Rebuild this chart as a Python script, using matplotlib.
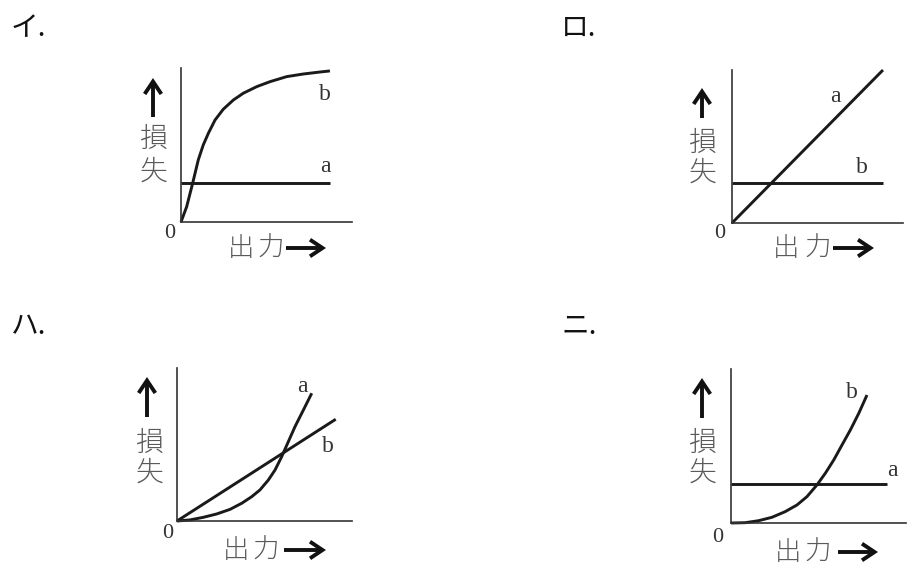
import matplotlib
matplotlib.use("Agg")
import matplotlib.pyplot as plt
from matplotlib.patches import FancyArrowPatch

plt.rcParams['font.family'] = ['Noto Sans CJK JP', 'DejaVu Sans']

W, H = 923, 579

# panel titles
titles = ["イ.", "ロ.", "ハ.", "ニ."]

# イ : a flat, b saturating
i_a_x = [0, 87]
i_a_y = [25.3, 25.3]
i_b_x = [0, 3.3, 6.8, 10.1, 13.0, 16.0, 19.9, 24.7, 30.6, 36.4, 44.3, 52.0, 61.8, 71.5, 81.3, 87.1]
i_b_y = [0, 9.9, 25.1, 40.3, 50.0, 57.6, 66.2, 73.2, 79.2, 83.6, 87.9, 91.1, 94.4, 96.1, 97.4, 98.1]

# ロ : a straight line, b flat
ro_a_x = [0, 88.3]
ro_a_y = [0, 100]
ro_b_x = [0, 88.3]
ro_b_y = [26.1, 26.1]

# ハ : a rising curve, b straight line
ha_a_x = [0, 7.4, 15.0, 22.7, 30.3, 37.0, 42.7, 47.4, 52.2, 56.0, 59.8, 63.6, 67.4, 72.2, 77.0]
ha_a_y = [0, 0.7, 2.4, 4.6, 7.6, 11.6, 15.9, 20.3, 26.8, 33.3, 42.0, 51.8, 61.6, 72.5, 83.5]
ha_b_x = [0, 90.7]
ha_b_y = [0, 66.5]

# ニ : a flat, b rising curve
ni_a_x = [0, 89.1]
ni_a_y = [25.3, 25.3]
ni_b_x = [0, 8.2, 15.8, 23.4, 31.0, 37.7, 43.4, 49.1, 53.9, 58.7, 63.4, 68.2, 73.0, 77.7]
ni_b_y = [0, 0.2, 1.5, 3.7, 7.4, 11.7, 17.1, 24.7, 32.3, 40.9, 50.6, 60.4, 71.2, 83.1]


def fx(x):
    return x / W


def fy(y):
    return 1 - y / H


def arrow(x0, y0, x1, y1):
    fig.add_artist(FancyArrowPatch(
        (fx(x0), fy(y0)), (fx(x1), fy(y1)), transform=fig.transFigure,
        arrowstyle='->,head_length=9,head_width=6', lw=2.8, color='#111111',
        shrinkA=0, shrinkB=0, joinstyle='miter', capstyle='butt'))


fig = plt.figure(figsize=(W / 100, H / 100), dpi=100)
fig.patch.set_facecolor('white')

# axis box (left, bottom, width, height) in pixels and text positions
panels = [
    dict(box=(181, 222, 171, 154), title=(11, 36), lines=[(i_a_x, i_a_y), (i_b_x, i_b_y)],
         labels=[("b", 325, 94), ("a", 325, 166)], up=(153, 117, 78), kan=(153, 139, 172),
         zero=(170, 234), out=(241, 271, 248), arr=(286, 326)),
    dict(box=(732, 223, 171, 153), title=(561, 36), lines=[(ro_a_x, ro_a_y), (ro_b_x, ro_b_y)],
         labels=[("a", 835, 96), ("b", 862, 167)], up=(702, 118, 88), kan=(702, 143, 173),
         zero=(720, 234), out=(786, 818, 248), arr=(833, 874)),
    dict(box=(177, 521, 175, 153), title=(11, 334), lines=[(ha_a_x, ha_a_y), (ha_b_x, ha_b_y)],
         labels=[("a", 302, 387), ("b", 328, 446)], up=(147, 417, 377), kan=(149, 443, 473),
         zero=(168, 534), out=(236, 266, 550), arr=(284, 326)),
    dict(box=(731, 523, 175, 154), title=(561, 334), lines=[(ni_a_x, ni_a_y), (ni_b_x, ni_b_y)],
         labels=[("b", 852, 392), ("a", 892, 471)], up=(702, 418, 378), kan=(702, 443, 473),
         zero=(718, 538), out=(788, 818, 552), arr=(838, 878)),
]

for p, title in zip(panels, titles):
    l, b, w, h = p['box']
    ax = fig.add_axes([fx(l), fy(b), w / W, h / H])
    ax.set_xlim(0, 100)
    ax.set_ylim(0, 100)
    for s in ['top', 'right']:
        ax.spines[s].set_visible(False)
    for s in ['left', 'bottom']:
        ax.spines[s].set_linewidth(1.2)
        ax.spines[s].set_color('#333333')
    ax.set_xticks([])
    ax.set_yticks([])
    ax.patch.set_alpha(0)
    for xs, ys in p['lines']:
        ax.plot(xs, ys, color='#1a1a1a', lw=2.1, clip_on=False, solid_capstyle='butt')

    # panel title
    fig.text(fx(p['title'][0]), fy(p['title'][1]), title, fontsize=20, color='#111111',
             ha='left', va='baseline')
    # curve labels
    for t, x, y in p['labels']:
        fig.text(fx(x), fy(y), t, fontsize=17, family='Liberation Serif', color='#333333',
                 ha='center', va='center')
    # 0
    fig.text(fx(p['zero'][0]), fy(p['zero'][1]), "0", fontsize=16, family='Liberation Serif',
             color='#333333', ha='center', va='center')
    # y label
    kx, k1, k2 = p['kan']
    fig.text(fx(kx), fy(k1), "損", fontsize=20, color='#5a5a5a', weight='light',
             ha='center', va='center')
    fig.text(fx(kx), fy(k2), "失", fontsize=20, color='#5a5a5a', weight='light',
             ha='center', va='center')
    ux, u0, u1 = p['up']
    arrow(ux, u0, ux, u1)
    # x label
    c1, c2, oy = p['out']
    fig.text(fx(c1), fy(oy), "出", fontsize=19, color='#5a5a5a', weight='light',
             ha='center', va='center')
    fig.text(fx(c2), fy(oy), "力", fontsize=19, color='#5a5a5a', weight='light',
             ha='center', va='center')
    a0, a1 = p['arr']
    arrow(a0, oy, a1, oy)

fig.savefig("out.png", dpi=100, facecolor='white')
